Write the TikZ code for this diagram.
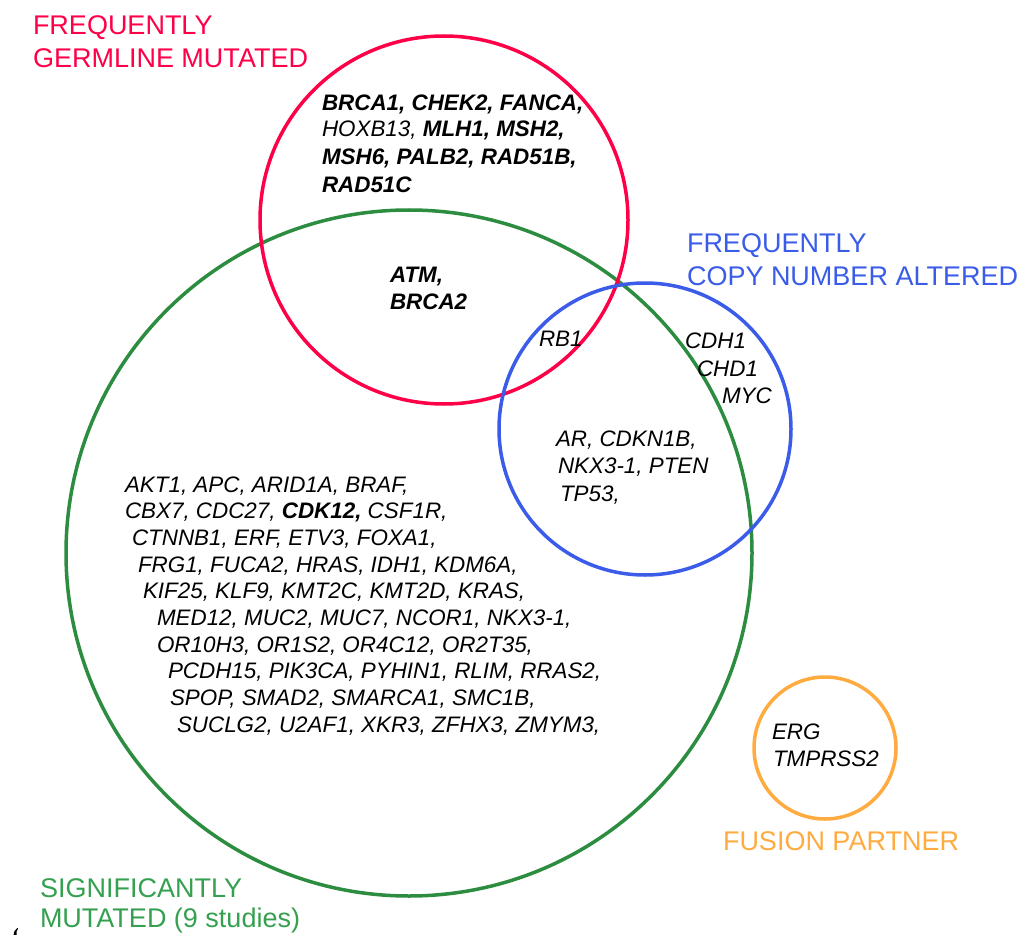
\documentclass[tikz,border=0pt]{standalone}
\usepackage{fontspec}
\setmainfont{Liberation Sans}
\definecolor{cred}{RGB}{255,0,72}
\definecolor{cgreen}{RGB}{44,140,64}
\definecolor{cgreentxt}{RGB}{52,160,80}
\definecolor{cblue}{RGB}{58,92,232}
\definecolor{corange}{RGB}{255,171,64}
\begin{document}
\begin{tikzpicture}[x=1pt,y=-1pt,
  lab/.style={anchor=base west, inner sep=0pt, outer sep=0pt, font=\fontsize{27}{33}\selectfont},
  gene/.style={anchor=base west, inner sep=0pt, outer sep=0pt, font=\fontsize{22.4}{27}\selectfont\itshape},
  ring/.style={circle, draw, line width=3.5pt, inner sep=0pt, outer sep=0pt}]
\useasboundingbox (0,0) rectangle (1031,936);
% circles
\node[ring, draw=cgreen, minimum size=686pt] (sig) at (409,553) {};
\node[ring, draw=cred, minimum size=368pt] (germ) at (444,220) {};
\node[ring, draw=cblue, minimum size=292pt] (cna) at (645,429) {};
\node[ring, draw=corange, minimum size=142pt] (fus) at (825,748) {};
% category labels
\node[lab, text=cred] (germA) at (33,35) {FREQUENTLY};
\node[lab, text=cred] (germB) at (33,68) {GERMLINE MUTATED};
\node[lab, text=cblue] (cnaA) at (687,252) {FREQUENTLY};
\node[lab, text=cblue] (cnaB) at (687,285) {COPY NUMBER ALTERED};
\node[lab, text=cgreentxt] (sigA) at (40,897) {SIGNIFICANTLY};
\node[lab, text=cgreentxt] (sigB) at (40,927) {MUTATED (9 studies)};
\node[lab, text=corange] (fusA) at (723,850) {FUSION PARTNER};
% small stray mark at the bottom left
\fill[black] (13.6,934.8) .. controls (13.2,932.5) and (15,929.5) .. (17.6,927.8)
  -- (18,928.5) .. controls (16.6,930) and (16.4,932.3) .. (16.6,934.8) -- cycle;
% germline only
\node[gene] (g1) at (322,111) {\bfseries BRCA1, CHEK2, FANCA,};
\node[gene] (g2) at (322,137) {HOXB13, \bfseries MLH1, MSH2,};
\node[gene] (g3) at (322,165) {\bfseries MSH6, PALB2, RAD51B,};
\node[gene] (g4) at (322,193) {\bfseries RAD51C};
% germline & significant
\node[gene] (gs1) at (390,282) {\bfseries ATM,};
\node[gene] (gs2) at (390,309) {\bfseries BRCA2};
% triple / cna overlaps
\node[gene] (rb) at (539,346) {RB1};
\node[gene] (c1) at (685,348) {CDH1};
\node[gene] (c2) at (697,376) {CHD1};
\node[gene] (c3) at (722,403) {MYC};
\node[gene] (cs1) at (556,446) {AR, CDKN1B,};
\node[gene] (cs2) at (558,473) {NKX3-1, PTEN};
\node[gene] (cs3) at (560,501) {TP53,};
% significantly mutated
\node[gene] (s1) at (125,492) {AKT1, APC, ARID1A, BRAF,};
\node[gene] (s2) at (125,518) {CBX7, CDC27, \textbf{CDK12,} CSF1R,};
\node[gene] (s3) at (132,545) {CTNNB1, ERF, ETV3, FOXA1,};
\node[gene] (s4) at (138,572) {FRG1, FUCA2, HRAS, IDH1, KDM6A,};
\node[gene] (s5) at (143,598) {KIF25, KLF9, KMT2C, KMT2D, KRAS,};
\node[gene] (s6) at (157,625) {MED12, MUC2, MUC7, NCOR1, NKX3-1,};
\node[gene] (s7) at (157,652) {OR10H3, OR1S2, OR4C12, OR2T35,};
\node[gene] (s8) at (168,678) {PCDH15, PIK3CA, PYHIN1, RLIM, RRAS2,};
\node[gene] (s9) at (170,705) {SPOP, SMAD2, SMARCA1, SMC1B,};
\node[gene] (s10) at (177,732) {SUCLG2, U2AF1, XKR3, ZFHX3, ZMYM3,};
% fusion
\node[gene] (f1) at (772,739) {ERG};
\node[gene] (f2) at (773,766) {TMPRSS2};
\end{tikzpicture}
\end{document}
